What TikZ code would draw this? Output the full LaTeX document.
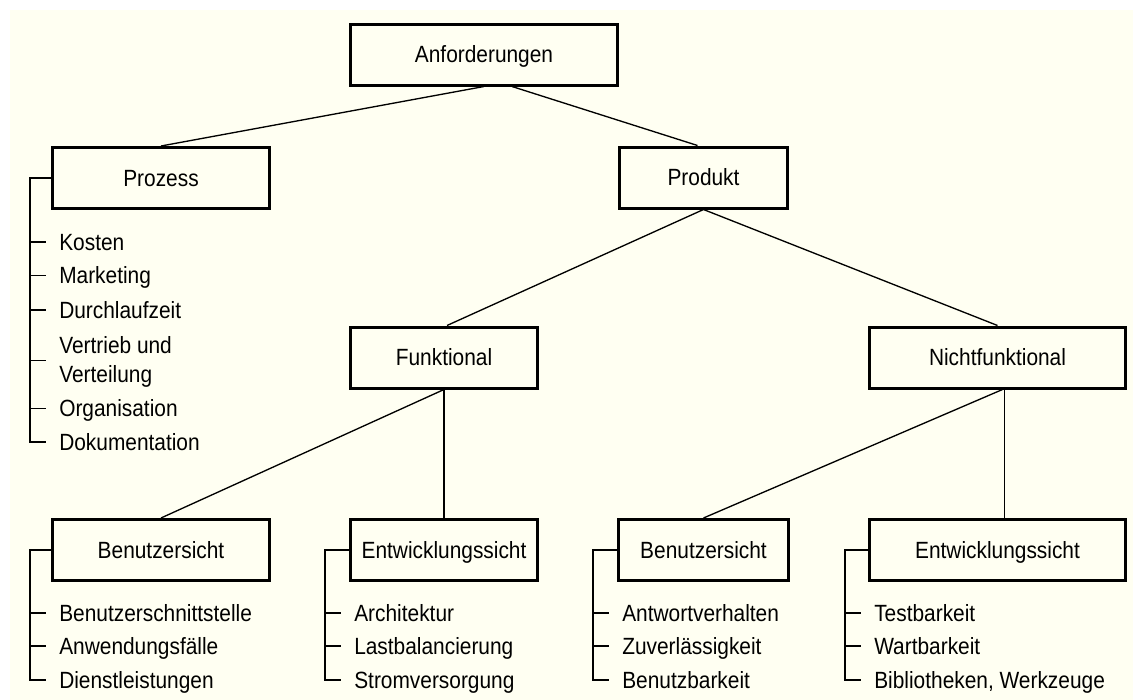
\documentclass[tikz,border=0pt]{standalone}
\usepackage{fontspec}
\setmainfont{Liberation Sans}[FakeStretch=0.89]
\usetikzlibrary{calc}
\definecolor{ivory}{RGB}{255,255,242}

\begin{document}
\begin{tikzpicture}[x=0.75pt,y=-0.75pt,
  labelfont/.style={font=\fontsize{17.6pt}{21pt}\selectfont},
  box/.style={draw=black, line width=2.25pt, fill=ivory, inner sep=0pt,
    minimum height=61*0.75pt, text height=12.6pt, text depth=0pt, labelfont},
  item/.style={anchor=base west, inner sep=0pt, labelfont},
  link/.style={line width=1pt},
  tree/.style={line width=1pt}]

% canvas
\fill[white] (0,0) rectangle (1133,700);
\fill[ivory] (10,10) rectangle (1133,700);
\useasboundingbox (0,0) rectangle (1133,700);

% hierarchy boxes
\node[box, minimum width=267*0.75pt] (anf)  at (484,54.5)    {Anforderungen};
\node[box, minimum width=217*0.75pt] (proz) at (161,178)     {Prozess};
\node[box, minimum width=168*0.75pt] (prod) at (703.5,177.5) {Produkt};
\node[box, minimum width=187*0.75pt] (fun)  at (444,357.5)   {Funktional};
\node[box, minimum width=256*0.75pt] (nf)   at (997.5,357.5) {Nichtfunktional};
\node[box, minimum width=217*0.75pt] (bs1)  at (161,550)     {Benutzersicht};
\node[box, minimum width=187*0.75pt] (es1)  at (444,550)     {Entwicklungssicht};
\node[box, minimum width=170*0.75pt] (bs2)  at (703.5,550)   {Benutzersicht};
\node[box, minimum width=256*0.75pt] (es2)  at (997.5,550)   {Entwicklungssicht};

% tree edges
\draw[link] (anf.south) -- (proz.north);
\draw[link] ($(anf.south)+(28,0)$) -- ($(prod.north)+(-6,0)$);
\draw[link] (prod.south) -- ($(fun.north)+(3,0)$);
\draw[link] (prod.south) -- (nf.north);
\draw[link] (fun.south) -- (bs1.north);
\draw[link] (fun.south) -- (es1.north);
\draw[link] ($(nf.south)+(5,0)$) -- (bs2.north);
\draw[link] ($(nf.south)+(7,0)$) -- ($(es2.north)+(7,0)$);

% Prozess list
\node[item] (p1)  at (59,250)   {Kosten};
\node[item] (p2)  at (59,283.5) {Marketing};
\node[item] (p3)  at (59,318)   {Durchlaufzeit};
\node[item] (p4)  at (59,353)   {Vertrieb und};
\node[item] (p4b) at (59,382)   {Verteilung};
\node[item] (p5)  at (59,416.5) {Organisation};
\node[item] (p6)  at (59,450)   {Dokumentation};
\draw[tree] (proz.west) -- ++(-21,0) |- ($(p6.base west)+(-13,-8)$);
\foreach \n in {p1,p2,p3,p5}
  \draw[tree] ($(\n.base west)+(-29,-8)$) -- ++(16,0);
\draw[tree] ($(p4.base west)+(-29,7.5)$) -- ++(16,0);

% Benutzersicht (funktional)
\node[item] (a1) at (59,621) {Benutzerschnittstelle};
\node[item] (a2) at (59,654) {Anwendungsfälle};
\node[item] (a3) at (59,688) {Dienstleistungen};
\draw[tree] (bs1.west) -- ++(-21,0) |- ($(a3.base west)+(-13,-8)$);
\foreach \n in {a1,a2}
  \draw[tree] ($(\n.base west)+(-29,-8)$) -- ++(16,0);

% Entwicklungssicht (funktional)
\node[item] (b1) at (354,621) {Architektur};
\node[item] (b2) at (354,654) {Lastbalancierung};
\node[item] (b3) at (354,688) {Stromversorgung};
\draw[tree] (es1.west) -- ++(-24,0) |- ($(b3.base west)+(-13,-8)$);
\foreach \n in {b1,b2}
  \draw[tree] ($(\n.base west)+(-29,-8)$) -- ++(16,0);

% Benutzersicht (nichtfunktional)
\node[item] (c1) at (622,621) {Antwortverhalten};
\node[item] (c2) at (622,654) {Zuverlässigkeit};
\node[item] (c3) at (622,688) {Benutzbarkeit};
\draw[tree] (bs2.west) -- ++(-24,0) |- ($(c3.base west)+(-13,-8)$);
\foreach \n in {c1,c2}
  \draw[tree] ($(\n.base west)+(-29,-8)$) -- ++(16,0);

% Entwicklungssicht (nichtfunktional)
\node[item] (d1) at (874,621) {Testbarkeit};
\node[item] (d2) at (874,654) {Wartbarkeit};
\node[item] (d3) at (874,688) {Bibliotheken, Werkzeuge};
\draw[tree] (es2.west) -- ++(-23,0) |- ($(d3.base west)+(-13,-8)$);
\foreach \n in {d1,d2}
  \draw[tree] ($(\n.base west)+(-29,-8)$) -- ++(16,0);

\end{tikzpicture}
\end{document}
